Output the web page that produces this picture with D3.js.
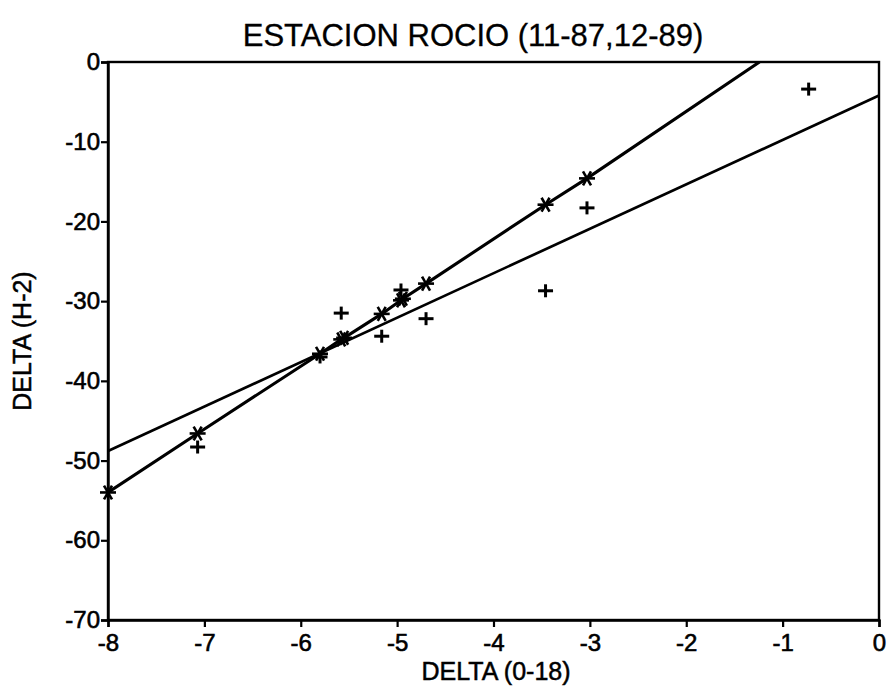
<!DOCTYPE html>
<html>
<head>
<meta charset="utf-8">
<script src="https://cdn.jsdelivr.net/npm/d3@7"></script>
<style>
  html, body { margin: 0; padding: 0; background: #fff; }
  svg { display: block; }
  text { font-family: "Liberation Sans", Arial, Helvetica, sans-serif; fill: #000; }
</style>
</head>
<body>
<svg id="chart" width="891" height="693"></svg>
<script>
// δ18O values (x) and δ2H values (y) of the samples
const sampleX = [-7.07, -5.58, -5.16, -4.96, -4.70, -3.46, -3.03, -0.73, -5.80];
const sampleY = [-48.3, -31.5, -34.4, -28.6, -32.2, -28.7, -18.3, -3.4, -37.0];

// points along the meteoric water line at the sample δ18O values
const lineX = [-8.0, -7.07, -5.80, -5.58, -5.55, -5.16, -4.96, -4.94, -4.70, -3.46, -3.03, -1.24];
const lineY = [-54.0, -46.6, -36.6, -34.8, -34.6, -31.6, -29.9, -29.7, -27.8, -17.9, -14.6, 0.0];
// which of those carry an asterisk marker
const starFlags = [1, 1, 1, 1, 1, 1, 1, 1, 1, 1, 1, 0];

// local regression line of the samples
const fitX = [-8.0, 0.0];
const fitY = [-48.8, -4.2];

const xTicks = [-8, -7, -6, -5, -4, -3, -2, -1, 0];
const yTicks = [0, -10, -20, -30, -40, -50, -60, -70];

const titleText = "ESTACION ROCIO (11-87,12-89)";
const xLabel = "DELTA (0-18)";
const yLabel = "DELTA (H-2)";

const svg = d3.select("#chart");
const m = { left: 108, right: 12, top: 62, bottom: 73 };
const W = 891, H = 693;

const x = d3.scaleLinear().domain([-8, 0]).range([m.left, W - m.right]);
const y = d3.scaleLinear().domain([-70, 0]).range([H - m.bottom, m.top]);

// plain hyphen for negative numbers
const fmt = d => String(d);

// frame
svg.append("rect")
  .attr("x", x(-8)).attr("y", y(0))
  .attr("width", x(0) - x(-8)).attr("height", y(-70) - y(0))
  .attr("fill", "none").attr("stroke", "#000").attr("stroke-width", 2.4);

// axes
const xAxis = svg.append("g")
  .attr("transform", `translate(0,${y(-70)})`)
  .call(d3.axisBottom(x).tickValues(xTicks).tickSize(7).tickPadding(4).tickFormat(fmt));
const yAxis = svg.append("g")
  .attr("transform", `translate(${x(-8)},0)`)
  .call(d3.axisLeft(y).tickValues(yTicks).tickSize(7).tickPadding(1).tickFormat(fmt));

[xAxis, yAxis].forEach(g => {
  g.select(".domain").attr("stroke-width", 2.4);
  g.selectAll(".tick line").attr("stroke-width", 2.2);
  g.selectAll(".tick text")
    .style("font-family", "'Liberation Sans', Arial, sans-serif")
    .style("font-size", "24px")
    .attr("fill", "#000").attr("stroke", "#000").attr("stroke-width", 0.6);
});
xAxis.selectAll(".tick text").attr("dy", "0.82em");

// clip to the plotting area
svg.append("clipPath").attr("id", "plotclip")
  .append("rect")
  .attr("x", x(-8)).attr("y", y(0))
  .attr("width", x(0) - x(-8)).attr("height", y(-70) - y(0));

const plot = svg.append("g").attr("clip-path", "url(#plotclip)");

const line = d3.line().x(d => x(d[0])).y(d => y(d[1]));

plot.append("path")
  .datum(fitX.map((v, i) => [v, fitY[i]]))
  .attr("d", line)
  .attr("fill", "none").attr("stroke", "#000").attr("stroke-width", 2.7);

plot.append("path")
  .datum(lineX.map((v, i) => [v, lineY[i]]))
  .attr("d", line)
  .attr("fill", "none").attr("stroke", "#000").attr("stroke-width", 3.1);

// asterisk markers
const star = svg.append("g");
lineX.forEach((v, i) => {
  if (!starFlags[i]) return;
  const g = star.append("g").attr("transform", `translate(${x(v)},${y(lineY[i])})`);
  const r = 8;
  [0, 60, 120].forEach(a => {
    const t = a * Math.PI / 180;
    g.append("line")
      .attr("x1", -r * Math.cos(t)).attr("y1", -r * Math.sin(t))
      .attr("x2", r * Math.cos(t)).attr("y2", r * Math.sin(t))
      .attr("stroke", "#000").attr("stroke-width", 2.6);
  });
});

// plus markers
const plus = svg.append("g");
sampleX.forEach((v, i) => {
  const cx = x(v), cy = y(sampleY[i]), r = 7.5;
  plus.append("line").attr("x1", cx - r).attr("x2", cx + r).attr("y1", cy).attr("y2", cy)
    .attr("stroke", "#000").attr("stroke-width", 3);
  plus.append("line").attr("x1", cx).attr("x2", cx).attr("y1", cy - r + 1).attr("y2", cy + r - 1)
    .attr("stroke", "#000").attr("stroke-width", 3);
});

// title and axis titles
svg.append("text")
  .attr("x", 473).attr("y", 46)
  .attr("text-anchor", "middle")
  .style("font-size", "31px")
  .attr("stroke", "#000").attr("stroke-width", 0.3)
  .text(titleText);

svg.append("text")
  .attr("x", 496).attr("y", 680)
  .attr("text-anchor", "middle")
  .style("font-size", "25px")
  .attr("stroke", "#000").attr("stroke-width", 0.5)
  .text(xLabel);

svg.append("text")
  .attr("transform", `translate(31,${(y(0) + y(-70)) / 2}) rotate(-90)`)
  .attr("text-anchor", "middle")
  .style("font-size", "25px")
  .attr("stroke", "#000").attr("stroke-width", 0.5)
  .text(yLabel);
</script>
</body>
</html>
